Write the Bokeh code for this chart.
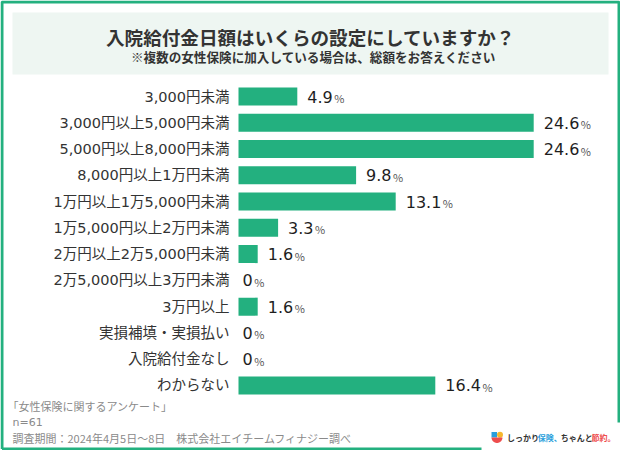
import numpy as np
from bokeh.plotting import figure
from bokeh.models import Range1d, ColumnDataSource
from bokeh.core.properties import value
from bokeh.embed import file_html
from bokeh.resources import INLINE

# ---- data ----
categories = [
    "3,000円未満",
    "3,000円以上5,000円未満",
    "5,000円以上8,000円未満",
    "8,000円以上1万円未満",
    "1万円以上1万5,000円未満",
    "1万5,000円以上2万円未満",
    "2万円以上2万5,000円未満",
    "2万5,000円以上3万円未満",
    "3万円以上",
    "実損補填・実損払い",
    "入院給付金なし",
    "わからない",
]
percentages = [4.9, 24.6, 24.6, 9.8, 13.1, 3.3, 1.6, 0, 1.6, 0, 0, 16.4]
value_labels = ["4.9", "24.6", "24.6", "9.8", "13.1", "3.3", "1.6", "0", "1.6", "0", "0", "16.4"]

title_text = "入院給付金日額はいくらの設定にしていますか？"
subtitle_text = "※複数の女性保険に加入している場合は、総額をお答えください"
source_line = "「女性保険に関するアンケート」"
n_line = "n=61"
period_line = "調査期間：2024年4月5日～8日　株式会社エイチームフィナジー調べ"

GREEN = "#23b07f"
DARK = "#333333"
GRAY = "#8a8a8a"
JP = value("Noto Sans CJK JP")
MIX = value("DejaVu Sans, Noto Sans CJK JP")

W, H = 620, 450
X0_PX, PX_PER_PCT = 238.0, 12.0
ROW0_PX, ROW_PX = 96.0, 26.27

p = figure(
    width=W, height=H,
    x_range=Range1d(-X0_PX / PX_PER_PCT, (W - X0_PX) / PX_PER_PCT),
    y_range=Range1d((H - ROW0_PX) / ROW_PX, -ROW0_PX / ROW_PX),
    output_backend="svg", toolbar_location=None,
    x_axis_location=None, y_axis_location=None,
    min_border=0, outline_line_color=None,
    background_fill_color="white", border_fill_color="white",
)
p.grid.visible = False
p.extra_x_ranges = {"px": Range1d(0, W)}
p.extra_y_ranges = {"py": Range1d(H, 0)}

# ---- frame & title box ----
p.multi_line(xs=[[1.5, 1.5, 618.5, 618.5], [1.5, 481]],
             ys=[[448.5, 1.5, 1.5, 422], [448.5, 448.5]],
             line_color=GREEN, line_width=3, x_range_name="px", y_range_name="py")
p.quad(left=[12], right=[608], top=[12], bottom=[74], fill_color="#eef6f2",
       line_color=None, x_range_name="px", y_range_name="py")
p.text(x=[310], y=[35.5], text=[title_text], text_font=JP, text_font_style="bold",
       text_font_size="18.6px", text_color=DARK, text_align="center",
       text_baseline="middle", x_range_name="px", y_range_name="py")
p.text(x=[313], y=[55.5], text=[subtitle_text], text_font=JP, text_font_style="bold",
       text_font_size="12.6px", text_color=DARK, text_align="center",
       text_baseline="middle", x_range_name="px", y_range_name="py")

# ---- bars ----
idx = list(range(len(categories)))
src = ColumnDataSource(dict(y=idx, v=percentages, cat=categories, lab=value_labels))
p.hbar(y="y", left=0, right="v", height=18 / ROW_PX, source=src,
       fill_color=GREEN, line_color=None)

p.text(x=0, y="y", text="cat", source=src, text_font=MIX, text_font_size="14.5px",
       text_color=DARK, text_align="right", text_baseline="middle", x_offset=-9)

def num_width(s):
    w = 0.0
    for ch in s:
        w += 5.09 if ch == "." else 10.18
    return w

num_off = [10 if v > 0 else 4 for v in percentages]
pct_off = [o + num_width(s) + 1.5 for o, s in zip(num_off, value_labels)]
src2 = ColumnDataSource(dict(y=idx, v=percentages, lab=value_labels,
                             no=num_off, po=pct_off, pc=["%"] * len(idx)))
p.text(x="v", y="y", text="lab", source=src2, text_font=value("DejaVu Sans"),
       text_font_size="16px", text_color="#1e1e1e",
       text_align="left", text_baseline="middle", x_offset="no", y_offset=0)
p.text(x="v", y="y", text="pc", source=src2, text_font=JP,
       text_font_size="11px", text_color="#555555",
       text_align="left", text_baseline="middle", x_offset="po", y_offset=1.5)

# ---- footer ----
for tx, xx, yy, fnt in [(source_line, 7, 405, JP), (n_line, 12, 421.5, MIX),
                        (period_line, 12, 437, JP)]:
    p.text(x=[xx], y=[yy], text=[tx], text_font=fnt, text_font_size="11px",
           text_color=GRAY, text_align="left", text_baseline="middle",
           x_range_name="px", y_range_name="py")

# ---- logo ----
p.quad(left=[491], right=[496.5], top=[431.5], bottom=[437], fill_color="#2a9fdc",
       line_color=None, x_range_name="px", y_range_name="py")
p.scatter(x=[499.5], y=[434.3], size=6, fill_color="#f5b82e", line_color=None,
          x_range_name="px", y_range_name="py")
th = np.linspace(0, np.pi, 20)
p.patch(x=list(496.5 + 5.5 * np.cos(th)), y=list(437 + 5.5 * np.sin(th)),
        fill_color="#ee4d4d", line_color=None, x_range_name="px", y_range_name="py")
parts = [("しっかり", DARK), ("保険、", "#2a9fdc"), ("ちゃんと", DARK), ("節約。", "#ee4d4d")]
xc = 506.5
for t, c in parts:
    p.text(x=[xc], y=[437], text=[t], text_font=JP, text_font_style="bold",
           text_font_size="8px", text_color=c, text_align="left",
           text_baseline="middle", x_range_name="px", y_range_name="py")
    xc += 8 * len(t) * 0.96

open("out.html", "w").write(file_html(p, INLINE))
